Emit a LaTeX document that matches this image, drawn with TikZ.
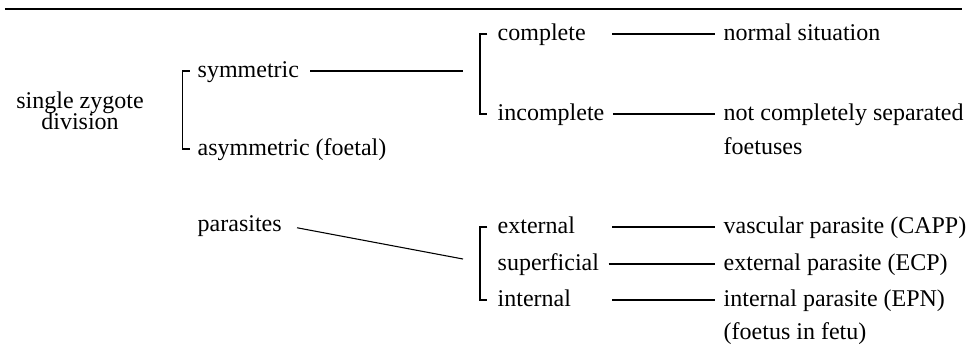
\documentclass[tikz,border=0pt]{standalone}
\usepackage{fontspec}
\setmainfont{Liberation Serif}
\usepackage{tikz}

\begin{document}
\begin{tikzpicture}[x=0.4167pt, y=-0.4167pt, semithick, inner sep=0pt, font=\fontsize{10}{12}\selectfont]

      \tikzstyle{every node}=[text height=1.5ex, text depth=.25ex]
      \tikzstyle{item}=[anchor=west]
      \tikzstyle{brak}=[line width=.6pt]
      \tikzstyle{link}=[line width=.45pt]

      \useasboundingbox (0,0) rectangle (967,351);
      \draw[line width=1pt] (5,9) -- (962,9);

      \node[align=center, text height=, text depth=] (zyg) at (80,111) {single zygote\\[-3.2pt]division};
      \node[item] (sym) at (197,71) {symmetric};
      \node[item] (asym) at (197,149) {asymmetric (foetal)};
      \node[item] (par) at (197,225) {parasites};

      \node[item] (comp) at (497,34) {complete};
      \node[item] (inc) at (497,114) {incomplete};
      \node[item] (ext) at (497,227) {external};
      \node[item] (sup) at (497,264) {superficial};
      \node[item] (int) at (497,300) {internal};

      \node[item] (norm) at (723,34) {normal situation};
      \node[item] (nsep) at (723,114) {not completely separated};
      \node[item] (foet) at (723,148) {foetuses};
      \node[item] (vasc) at (723,227) {vascular parasite (CAPP)};
      \node[item] (expar) at (723,264) {external parasite (ECP)};
      \node[item] (inpar) at (723,300) {internal parasite (EPN)};
      \node[item] (fif) at (723,333) {(foetus in fetu)};

      \coordinate (c1) at (310,0);
      \coordinate (c2) at (612,0);
      \coordinate (b2) at (480,0);
      \coordinate (b3) at (463,259);

      % brackets
      \draw[brak] ([xshift=-3pt]sym.west) -- ++(-3pt,0) |- ([xshift=-3pt]asym.west);
      \draw[brak] ([xshift=-4pt]comp.west) -- ++(-3pt,0) |- ([xshift=-4pt]inc.west);
      \draw[brak] ([xshift=-4pt]ext.west) -- ++(-3pt,0) |- ([xshift=-4pt]int.west);

      % connectors
      \draw[link, shorten >=7pt] (sym -| c1) -- (sym -| b2);
      \draw[link, shorten <=6.2pt] (par.east) -- (b3);
      \draw[link, shorten >=3.3pt] (comp -| c2) -- (norm);
      \draw[link, shorten <=3.3pt, shorten >=3.3pt] (inc) -- (nsep);
      \draw[link, shorten >=3.3pt] (ext -| c2) -- (vasc);
      \draw[link, shorten <=3.7pt, shorten >=3.3pt] (sup) -- (expar);
      \draw[link, shorten >=3.3pt] (int -| c2) -- (inpar);
    \end{tikzpicture}
\end{document}
